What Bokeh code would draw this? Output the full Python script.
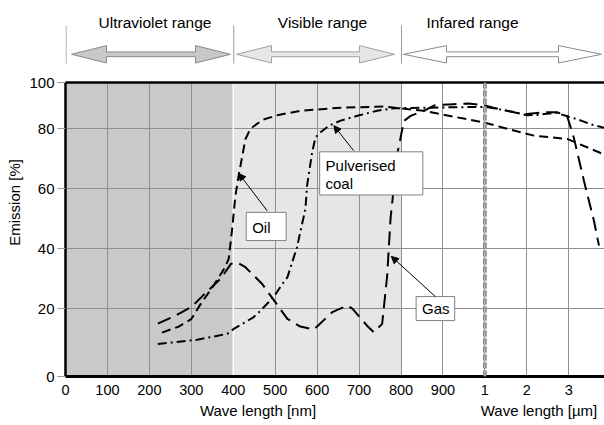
import math
from bokeh.plotting import figure
from bokeh.layouts import column
from bokeh.models import Range1d, FixedTicker, Arrow, NormalHead, Span, LinearAxis
from bokeh.core.properties import value
from bokeh.embed import file_html
from bokeh.resources import INLINE

FONT = "Liberation Sans"

# ---------------- data ----------------
x_tick_nm = [0, 100, 200, 300, 400, 500, 600, 700, 800, 900, 1000, 2000, 3000]
x_tick_labels = ["0", "100", "200", "300", "400", "500", "600", "700", "800", "900", "1", "2", "3"]
y_tick_values = [0, 20, 40, 60, 80, 100]

oil_nm = [230, 270, 300, 322, 350, 377, 389, 397, 405, 413, 421, 429, 441, 470, 505, 560,
          656, 758, 854, 934, 1000, 1530, 2170, 2960, 4000]
oil_pct = [12, 14, 16.5, 21.5, 27, 33, 36.5, 46, 57.5, 64.5, 70.5, 76.5, 80, 83, 84.5, 86,
           87, 87.4, 86, 83.8, 82, 80, 77.7, 76.6, 70.5]

gas_nm = [220, 260, 300, 340, 370, 395, 410, 429, 469, 501, 529, 560, 592, 636, 672, 684,
          719, 735, 755, 767, 775, 791, 807, 823, 855, 880, 926, 960, 1000, 1200, 1450,
          1850, 2000, 2400, 2720, 2960, 3120, 3360, 3600, 3720]
gas_pct = [15, 17.5, 20.5, 26, 30, 35, 35.3, 33.8, 28.2, 22, 16.6, 14, 13, 18.8, 21, 20,
           14.3, 12.1, 14.9, 31, 50, 71.5, 82.6, 84.3, 86, 87.8, 88.2, 88.4, 87.8, 87, 86.2,
           85, 84.9, 85.5, 85.5, 84.3, 77, 62.7, 49.3, 41]

coal_nm = [220, 314, 386, 401, 448, 457, 496, 517, 529, 544, 552, 559, 572, 576, 588, 596,
           608, 628, 656, 696, 743, 783, 850, 1000, 1300, 1750, 2000, 2250, 2700, 3000,
           3200, 3520, 3850]
coal_pct = [8.2, 9.6, 11.6, 13.2, 17.1, 18.2, 23.8, 28.2, 30.4, 37, 40.4, 45, 53.2, 61, 72.1,
            77.1, 78.8, 81, 82.7, 84.3, 86, 86.8, 87, 87.3, 86.6, 85.4, 84.5, 84.6, 85.3, 84,
            83.2, 81.5, 80.3]

region_names = ["Ultraviolet range", "Visible range", "Infared range"]
region_start_nm = [0, 400, 800]
region_end_nm = [400, 800, 4000]

x_titles = ["Wave length [nm]", "Wave length [µm]"]
y_title = "Emission [%]"


def pos(nm):
    """Broken wavelength axis: nm linear up to 1 µm, then µm steps."""
    return nm / 100.0 if nm <= 1000 else 9.0 + nm / 1000.0


# ---------------- layout constants ----------------
PX = 41.94            # pixels per axis unit (x)
PY = 3.001            # pixels per axis unit (y)
LEFT = 65             # frame left in px
FRAME_W = 539
Y0, Y100 = -2.65, 95.42   # axis value at frame bottom / top ("0" / "100" labels)
XR = Range1d(0, FRAME_W / PX)


def strip(height):
    f = figure(width=604, height=height, output_backend="svg", toolbar_location=None,
               x_range=XR, y_range=Range1d(height, 0),
               min_border_left=LEFT, min_border_right=0, min_border_top=0, min_border_bottom=0)
    f.axis.visible = False
    f.grid.visible = False
    f.outline_line_color = None
    f.background_fill_color = "white"
    f.border_fill_color = "white"
    return f


# ---------------- header strip ----------------
top = strip(70)
arrow_tips_px = [(71, 230), (236, 394), (403, 601)]
head_len_px = [35, 35, 43]
arrow_fill = ["#c8c8c8", "#e6e6e6", "#ffffff"]
arrow_line = ["#8a8a8a", "#a0a0a0", "#8a8a8a"]
cy, hh, sh = 53.8, 8.7, 2.4
for (xl, xr), h, fc, lc in zip(arrow_tips_px, head_len_px, arrow_fill, arrow_line):
    xs_px = [xl, xl + h, xl + h, xr - h, xr - h, xr, xr - h, xr - h, xl + h, xl + h]
    ys = [cy, cy - hh, cy - sh, cy - sh, cy - hh, cy, cy + hh, cy + sh, cy + sh, cy + hh]
    xs = [(x - LEFT) / PX for x in xs_px]
    top.patch(xs, ys, fill_color=fc, line_color=lc, line_width=1)

sep_x = [pos(v) + 0.5 / PX for v in region_start_nm]
top.segment(x0=sep_x, y0=[25] * 3, x1=sep_x, y1=[63] * 3, line_color="#9a9a9a", line_width=1)

header_text_px = [154.5, 322, 472]
top.text(x=[(x - LEFT) / PX for x in header_text_px], y=[22] * 3, text=region_names,
         text_font=value(FONT), text_font_size=value("15.5px"), text_align="center",
         text_baseline="middle", text_color="black")

# ---------------- main figure ----------------
p = figure(width=604, height=332, output_backend="svg", toolbar_location=None,
           x_range=XR, y_range=Range1d(Y0, Y100),
           min_border_left=LEFT, min_border_right=0, min_border_top=12, min_border_bottom=26)
p.background_fill_color = "white"
p.border_fill_color = "white"
p.outline_line_color = None

# range shading
shade_colors = ["#c9c9c9", "#e6e6e6"]
p.quad(left=[pos(v) for v in region_start_nm[:2]], right=[pos(v) for v in region_end_nm[:2]],
       bottom=Y0, top=Y100, fill_color=shade_colors, line_color=None, level="image")

# x axis
xt = [pos(v) for v in x_tick_nm]
p.xaxis.ticker = FixedTicker(ticks=xt)
p.xaxis.major_label_overrides = {t: lab for t, lab in zip(xt, x_tick_labels)}
p.xaxis.axis_line_color = "black"
p.xaxis.axis_line_width = 3
p.xaxis.major_tick_out = 0
p.xaxis.major_tick_in = 0
p.xaxis.minor_tick_line_color = None
p.xaxis.major_label_standoff = 8
p.xaxis.major_label_text_font = FONT
p.xaxis.major_label_text_font_size = "14.5px"
p.xaxis.major_label_text_color = "black"

# y axis (gridline-consistent scale; 0 and 100 sit on the frame edges)
yt = [Y0] + y_tick_values[1:-1] + [Y100]
p.yaxis.ticker = FixedTicker(ticks=yt)
p.yaxis.major_label_overrides = {Y0: "0", Y100: "100"}
p.yaxis.axis_line_color = "black"
p.yaxis.axis_line_width = 2.5
p.yaxis.major_tick_out = 8
p.yaxis.major_tick_in = 0
p.yaxis.major_tick_line_color = "#9a9a9a"
p.yaxis.minor_tick_line_color = None
p.yaxis.major_label_standoff = 3
p.yaxis.major_label_text_font = FONT
p.yaxis.major_label_text_font_size = "15px"
p.yaxis.major_label_text_color = "black"
# title sits above the frame centre in the reference: pad its start with no-break spaces
p.yaxis.axis_label = "\u00a0" * 13 + y_title
p.yaxis.axis_label_standoff = 3
p.yaxis.axis_label_text_font = FONT
p.yaxis.axis_label_text_font_size = "15px"
p.yaxis.axis_label_text_font_style = "normal"
p.yaxis.axis_label_text_color = "black"

# top border
top_axis = LinearAxis(ticker=FixedTicker(ticks=[]), axis_line_color="black", axis_line_width=2.5,
                      major_tick_line_color=None, minor_tick_line_color=None,
                      major_label_text_font_size="0px")
p.add_layout(top_axis, "above")

p.xgrid.grid_line_color = "#8f8f8f"
p.ygrid.grid_line_color = "#8f8f8f"
p.grid.grid_line_width = 1

# white boundary at 400 nm
p.segment(x0=[pos(400)], y0=[Y0], x1=[pos(400)], y1=[Y100], line_color="white", line_width=1.5)

# 1 µm divider (double dashed)
p.add_layout(Span(location=pos(1000), dimension="height", line_color="#6e6e6e",
                  line_width=3.5, line_dash="6 2"))
p.add_layout(Span(location=pos(1000), dimension="height", line_color="#e0e0e0",
                  line_width=1, line_dash="6 2"))

# curves
p.line([pos(v) for v in oil_nm], oil_pct, line_color="black", line_width=2, line_dash="9 5")
p.line([pos(v) for v in gas_nm], gas_pct, line_color="black", line_width=2, line_dash="14 7")
p.line([pos(v) for v in coal_nm], coal_pct, line_color="black", line_width=2, line_dash="9 4 2 4")

# callout boxes
box_left = [4.31, 6.06, 8.36]
box_right = [5.26, 8.52, 9.28]
box_bottom = [42.7, 57.9, 16.0]
box_top = [52.1, 72.3, 24.0]
p.quad(left=box_left, right=box_right, bottom=box_bottom, top=box_top,
       fill_color="white", line_color="#808080", line_width=1)
p.text(x=[4.45, 6.2, 6.2, 8.5], y=[47.1, 67.7, 61.6, 20.1],
       text=["Oil", "Pulverised", "coal", "Gas"],
       text_font=value(FONT), text_font_size=value("15px"), text_align="left",
       text_baseline="middle", text_color="black")

for xs, ys, xe, ye in [(4.81, 52.6, 4.13, 65.1), (6.87, 72.7, 6.40, 81.0), (8.82, 24.0, 7.77, 37.4)]:
    p.add_layout(Arrow(x_start=xs, y_start=ys, x_end=xe, y_end=ye, line_color="black",
                       line_width=1,
                       end=NormalHead(size=7, fill_color="black", line_color="black", line_width=1)))

# ---------------- bottom strip with the two x titles ----------------
bottom = strip(23)
bottom.text(x=[(257.5 - LEFT) / PX, (538.5 - LEFT) / PX], y=[8, 8], text=x_titles,
            text_font=value(FONT), text_font_size=value("15px"), text_align="center",
            text_baseline="middle", text_color="black")

layout = column(top, p, bottom, spacing=0)
open("out.html", "w").write(file_html(layout, INLINE))
